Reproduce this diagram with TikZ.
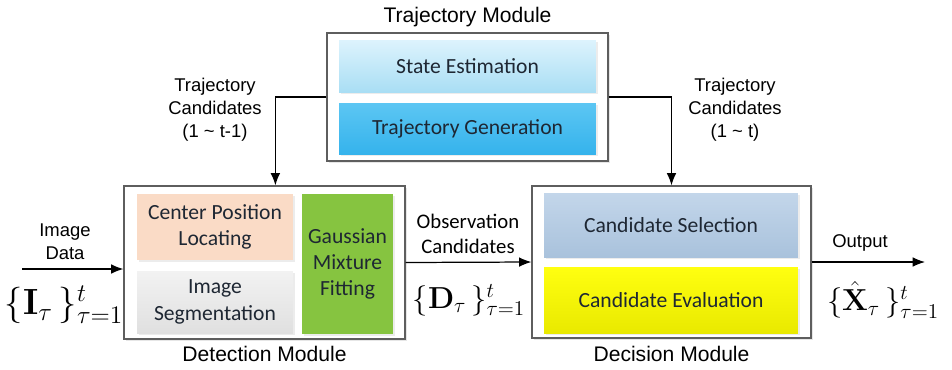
\documentclass[tikz,border=0pt]{standalone}
\usepackage[no-math]{fontspec}
\setmainfont{Liberation Sans}
\newfontfamily\boxfont{Carlito}
\usetikzlibrary{arrows.meta,shadows}
\definecolor{CFrame}{HTML}{5E5E5E}
\definecolor{CInk}{HTML}{1E2733}
\definecolor{CStateTop}{HTML}{DDF3FD}
\definecolor{CStateBot}{HTML}{A9DEF4}
\definecolor{CGenTop}{HTML}{5CC6F3}
\definecolor{CGenBot}{HTML}{35B3EC}
\definecolor{CPeach}{HTML}{FADBC6}
\definecolor{CGrayTop}{HTML}{F2F2F2}
\definecolor{CGrayBot}{HTML}{E0E0E0}
\definecolor{CGreen}{HTML}{86C440}
\definecolor{CSteelTop}{HTML}{C3D6EA}
\definecolor{CSteelBot}{HTML}{A9C2DC}
\definecolor{CYellowTop}{HTML}{FFFF10}
\definecolor{CYellowBot}{HTML}{E9E900}

\begin{document}
\begin{tikzpicture}[
    x=0.02cm, y=-0.02cm,
    module/.style={draw=CFrame, fill=white, line width=0.7pt, inner sep=0pt,
      drop shadow={opacity=0.2, shadow xshift=1pt, shadow yshift=-1pt}},
    part/.style={inner sep=0pt, align=center, text=CInk,
      font=\boxfont\fontsize{12.3}{15}\selectfont,
      drop shadow={opacity=0.15, shadow xshift=1pt, shadow yshift=-1pt}},
    lbl/.style={align=center, inner sep=1pt, font=\fontsize{10.5}{13}\selectfont},
    title/.style={font=\fontsize{12}{14}\selectfont},
    setlbl/.style={inner sep=0pt, font=\fontsize{18}{22}\selectfont},
    arr/.style={-{Latex[length=7pt,width=5.5pt]}, line width=0.7pt}
]
  \useasboundingbox (0,0) rectangle (952,369);

  % trajectory module (top)
  \node[module, minimum width=5.62cm, minimum height=2.56cm] (traj) at (467.5,97) {};
  \node[title] (trajT) at (467.5,17) {Trajectory Module};
  \node[part, top color=CStateTop, bottom color=CStateBot,
        minimum width=5.14cm, minimum height=1.04cm] (state) at (467.5,66) {State Estimation};
  \node[part, top color=CGenTop, bottom color=CGenBot,
        minimum width=5.14cm, minimum height=1.02cm] (gen) at (467.5,128.5) {Trajectory Generation};

  % detection module
  \node[module, minimum width=5.62cm, minimum height=3.06cm] (det) at (264.5,262.5) {};
  \node[title] (detT) at (264.5,354) {Detection Module};
  \node[part, fill=CPeach, minimum width=3.12cm, minimum height=1.32cm] (center) at (215,227)
        {Center Position\\Locating};
  \node[part, top color=CGrayTop, bottom color=CGrayBot,
        minimum width=3.12cm, minimum height=1.24cm] (seg) at (215,302) {Image\\Segmentation};
  \node[part, fill=CGreen, minimum width=1.82cm, minimum height=2.8cm] (gmm) at (347.5,264)
        {Gaussian\\Mixture\\Fitting};

  % decision module
  \node[module, minimum width=5.58cm, minimum height=3.04cm] (dec) at (671.5,262) {};
  \node[title] (decT) at (671.5,354) {Decision Module};
  \node[part, top color=CSteelTop, bottom color=CSteelBot,
        minimum width=5.08cm, minimum height=1.28cm] (sel) at (671,225) {Candidate Selection};
  \node[part, top color=CYellowTop, bottom color=CYellowBot,
        minimum width=5.08cm, minimum height=1.32cm] (eval) at (671,300) {Candidate Evaluation};

  % connectors
  \coordinate (in) at (22,269);
  \coordinate (out) at (925,262);
  \draw[arr] (traj.west) -| ([xshift=3.04cm]det.north west);
  \draw[arr] (traj.east) -| (dec.north);
  \draw[arr] (in) -- (in -| det.west);
  \draw[arr] (det.east) -- (dec.west);
  \draw[arr] (dec.east) -- (out);

  % labels on the connectors
  \node[lbl] (tcl) at (215,110) {Trajectory\\Candidates\\(1 \char`~\ t-1)};
  \node[lbl] (tcr) at (735,110) {Trajectory\\Candidates\\(1 \char`~\ t)};
  \node[lbl] (imgL) at (65,242) {Image\\Data};
  \node[lbl, font=\boxfont\fontsize{11.8}{14.5}\selectfont] (obsL) at (468,234)
        {Observation\\Candidates};
  \node[lbl] (outL) at (860,243) {Output};
  \node[setlbl, font=\fontsize{19.5}{22}\selectfont] (setI) at (64,305)
        {$\{\mathbf{I}_{\tau}\,\}^{t}_{\tau=1}$};
  \node[setlbl] (setD) at (469,300) {$\{\mathbf{D}_{\tau}\,\}^{t}_{\tau=1}$};
  \node[setlbl, font=\fontsize{18.5}{22}\selectfont] (setX) at (883,300)
        {$\{\hat{\mathbf{X}}_{\tau}\,\}^{t}_{\tau=1}$};
\end{tikzpicture}
\end{document}
